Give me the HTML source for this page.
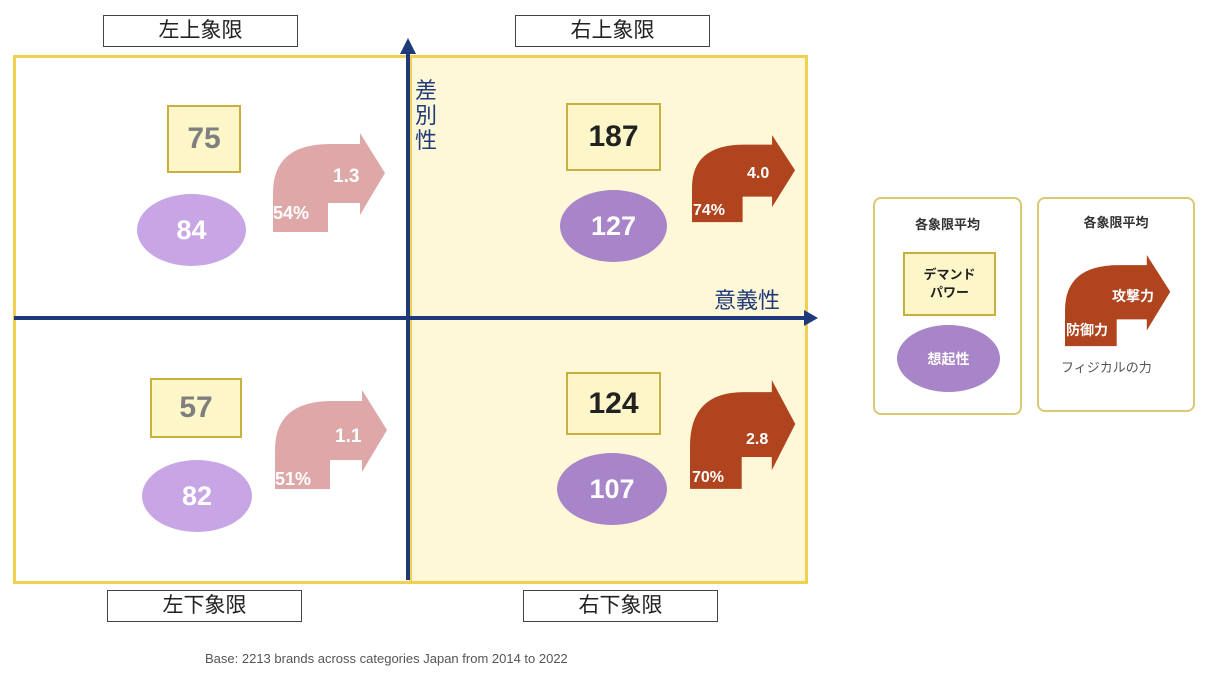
<!DOCTYPE html><html><head><meta charset="utf-8"><style>
body{margin:0;width:1212px;height:682px;background:#fff;position:relative;overflow:hidden;font-family:"Liberation Sans","Noto Sans CJK JP",sans-serif}
.a{position:absolute}
.lab{position:absolute;border:1.5px solid #444;background:#fff;font-size:21px;text-align:center;line-height:30px;color:#222}
.num{position:absolute;background:#fdf6c8;border:2px solid #c8b040;font-weight:bold;font-size:30px;display:flex;align-items:center;justify-content:center}
.el{position:absolute;border-radius:50%;color:#fff;font-weight:bold;font-size:27px;display:flex;align-items:center;justify-content:center}
</style></head><body>
<div class="a" style="left:13px;top:55px;width:393px;height:523px;border:3px solid #f0d050"></div>
<div class="a" style="left:409px;top:55px;width:393px;height:523px;border:3px solid #f0d050;background:#fff8d8"></div>
<svg class="a" style="left:0;top:0" width="1212" height="682">
<line x1="408" y1="52" x2="408" y2="580" stroke="#1f3a7a" stroke-width="4"/>
<polygon points="400,54 416,54 408,38" fill="#1f3a7a"/>
<line x1="14" y1="318" x2="806" y2="318" stroke="#1f3a7a" stroke-width="4"/>
<polygon points="804,310 804,326 818,318" fill="#1f3a7a"/>
<g transform="translate(273,133)"><path d="M0,99 L0,60 Q0,11 57,11 L87,11 L87,0 L112,40 L87,82 L87,70 L55,70 L55,99 Z" fill="#dfa8a8"/></g>
<g transform="translate(692,135) scale(0.92,0.88)"><path d="M0,99 L0,60 Q0,11 57,11 L87,11 L87,0 L112,40 L87,82 L87,70 L55,70 L55,99 Z" fill="#b0441e"/></g>
<g transform="translate(275,390)"><path d="M0,99 L0,60 Q0,11 57,11 L87,11 L87,0 L112,40 L87,82 L87,70 L55,70 L55,99 Z" fill="#dfa8a8"/></g>
<g transform="translate(690,380) scale(0.94,1.1)"><path d="M0,99 L0,60 Q0,11 57,11 L87,11 L87,0 L112,40 L87,82 L87,70 L55,70 L55,99 Z" fill="#b0441e"/></g>
<g transform="translate(1065,255) scale(0.94,0.92)"><path d="M0,99 L0,60 Q0,11 57,11 L87,11 L87,0 L112,40 L87,82 L87,70 L55,70 L55,99 Z" fill="#b0441e"/></g>
<g fill="#fff" font-weight="bold" font-family="Liberation Sans,sans-serif">
<text x="333" y="182" font-size="19">1.3</text><text x="273" y="219" font-size="18">54%</text>
<text x="747" y="178" font-size="16">4.0</text><text x="693" y="215" font-size="16">74%</text>
<text x="335" y="442" font-size="19">1.1</text><text x="275" y="485" font-size="18">51%</text>
<text x="746" y="444" font-size="16">2.8</text><text x="692" y="482" font-size="16">70%</text>
<text x="1112" y="301" font-size="14" font-family="Noto Sans CJK JP,sans-serif">攻撃力</text>
<text x="1066" y="335" font-size="14" font-family="Noto Sans CJK JP,sans-serif">防御力</text>
</g>
</svg>
<div class="lab" style="left:103px;top:15px;width:193px">左上象限</div>
<div class="lab" style="left:515px;top:15px;width:193px">右上象限</div>
<div class="lab" style="left:107px;top:590px;width:193px">左下象限</div>
<div class="lab" style="left:523px;top:590px;width:193px">右下象限</div>
<div class="num" style="left:167px;top:105px;width:70px;height:64px;color:#7f7f7f">75</div>
<div class="num" style="left:566px;top:103px;width:91px;height:64px;color:#222">187</div>
<div class="num" style="left:150px;top:378px;width:88px;height:56px;color:#7f7f7f">57</div>
<div class="num" style="left:566px;top:372px;width:91px;height:59px;color:#222">124</div>
<div class="el" style="left:137px;top:194px;width:109px;height:72px;background:#c8a6e6">84</div>
<div class="el" style="left:560px;top:190px;width:107px;height:72px;background:#a884c8">127</div>
<div class="el" style="left:142px;top:460px;width:110px;height:72px;background:#c8a6e6">82</div>
<div class="el" style="left:557px;top:453px;width:110px;height:72px;background:#a884c8">107</div>
<div class="a" style="left:415px;top:78px;width:26px;font-size:22px;line-height:25px;color:#1f3a7a">差<br>別<br>性</div>
<div class="a" style="left:714px;top:283px;font-size:22px;color:#1f3a7a">意義性</div>
<div class="a" style="left:205px;top:651px;font-size:13px;color:#555">Base: 2213 brands across categories Japan from 2014 to 2022</div>
<div class="a" style="left:873px;top:197px;width:145px;height:214px;border:2px solid #dcc870;border-radius:8px"></div>
<div class="a" style="left:1037px;top:197px;width:154px;height:211px;border:2px solid #dcc870;border-radius:8px"></div>
<div class="a" style="left:873px;top:214px;width:149px;text-align:center;font-size:13px;font-weight:bold;color:#333">各象限平均</div>
<div class="a" style="left:1037px;top:212px;width:158px;text-align:center;font-size:13px;font-weight:bold;color:#333">各象限平均</div>
<div class="num" style="left:903px;top:252px;width:89px;height:60px;font-size:13px;line-height:18px;text-align:center;color:#222">デマンド<br>パワー</div>
<div class="el" style="left:897px;top:325px;width:103px;height:67px;background:#a884c8;font-size:14px">想起性</div>
<div class="a" style="left:1061px;top:357px;font-size:13px;color:#555">フィジカルの力</div>
</body></html>
